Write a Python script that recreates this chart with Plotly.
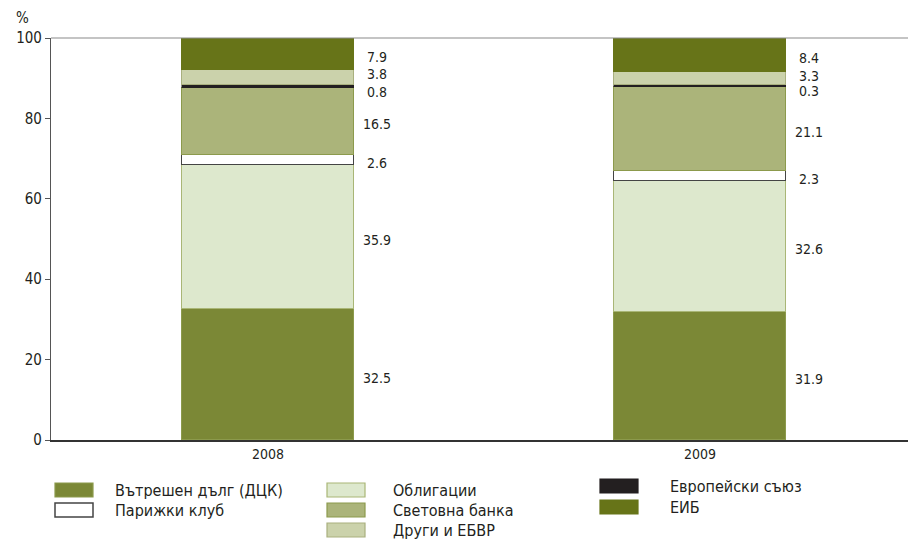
import plotly.graph_objects as go

# Structure of government debt by creditor, % of total
years = ["2008", "2009"]
series_names = [
    "Вътрешен дълг (ДЦК)",
    "Облигации",
    "Парижки клуб",
    "Световна банка",
    "Европейски съюз",
    "Други и ЕБВР",
    "ЕИБ",
]
domestic = [32.5, 31.9]
bonds = [35.9, 32.6]
paris_club = [2.6, 2.3]
world_bank = [16.5, 21.1]
eu = [0.8, 0.3]
other_ebrd = [3.8, 3.3]
eib = [7.9, 8.4]
y_ticks = [0, 20, 40, 60, 80, 100]

values = [domestic, bonds, paris_club, world_bank, eu, other_ebrd, eib]

fills = ["#7b8836", "#dde8cd", "#ffffff", "#abb47a", "#231f20", "#cbd2ab", "#677418"]
edges = ["#8c9a4c", "#a9b676", "#444444", "#8c9a4c", "#231f20", "#a9b07e", "#677418"]
edge_w = [1, 1, 1.5, 1, 0.5, 1, 1]

FONT = "Liberation Sans Narrow, DejaVu Sans Condensed, Arial Narrow, sans-serif"
TXT = "#231f20"

fig = go.Figure()
xs = list(range(len(years)))
for name, vals, fc, ec, lw in zip(series_names, values, fills, edges, edge_w):
    fig.add_trace(go.Bar(
        x=xs, y=vals, name=name, width=0.4,
        marker=dict(color=fc, line=dict(color=ec, width=lw)),
        showlegend=False, hoverinfo="name+y",
    ))

# value labels to the right of each bar, centred on the segment
nudge_px = {4: -2, 5: 6}  # pull the crowded thin segments apart
for i in xs:
    base = 0.0
    for k, vals in enumerate(values):
        v = vals[i]
        fig.add_annotation(
            x=i + 0.2 + 0.053, y=base + v / 2, xref="x", yref="y",
            text=f"{v:.1f}", showarrow=False, xanchor="center", yanchor="middle",
            yshift=-3 + nudge_px.get(k, 0),
            font=dict(family=FONT, size=14, color=TXT),
        )
        base += v

# plot-area geometry in pixels, used to place the legend below it
L, R, T, B = 51, 908, 38, 440
W, H = R - L, B - T


def px(x):
    return (x - L) / W


def py(y):
    return (B - y) / H


# top border of the plotting area
fig.add_shape(type="line", xref="paper", yref="paper", x0=0, x1=1, y0=1, y1=1,
              line=dict(color="#8a8a8a", width=1.2))

# three-column legend
legend_layout = [
    (0, 55, 113, 490), (1, 327, 391, 490), (2, 55, 113, 510), (3, 327, 391, 510),
    (4, 600, 668, 486), (5, 327, 391, 530), (6, 600, 668, 507),
]
for k, sx, tx, cy in legend_layout:
    fig.add_shape(type="rect", xref="paper", yref="paper",
                  x0=px(sx), x1=px(sx + 38), y0=py(cy - 7), y1=py(cy + 7),
                  fillcolor=fills[k], line=dict(color=edges[k], width=1.2 if k != 2 else 1.5))
    fig.add_annotation(x=px(tx), y=py(cy), xref="paper", yref="paper",
                       text=series_names[k], showarrow=False, xanchor="left", yanchor="middle",
                       font=dict(family=FONT, size=16, color=TXT))

fig.add_annotation(x=px(22), y=py(18), xref="paper", yref="paper", text="%",
                   showarrow=False, xanchor="center", yanchor="middle",
                   font=dict(family=FONT, size=15, color=TXT))

scale = 432.0
x0 = -(268 - L) / scale
fig.update_layout(
    width=908, height=540,
    margin=dict(l=L, r=908 - R, t=T, b=540 - B, pad=0),
    paper_bgcolor="white", plot_bgcolor="white",
    barmode="stack", bargap=0,
    font=dict(family=FONT, color=TXT),
    xaxis=dict(range=[x0, x0 + W / scale], tickvals=xs, ticktext=years,
               showgrid=False, zeroline=False, showline=True, linecolor="#333333", linewidth=1.5,
               ticks="", tickfont=dict(family=FONT, size=14, color=TXT), fixedrange=True),
    yaxis=dict(range=[0, 100], tickvals=y_ticks, showgrid=False, zeroline=False,
               showline=True, linecolor="#555555", linewidth=1.2,
               ticks="outside", ticklen=5, tickcolor="#555555", tickwidth=1,
               tickfont=dict(family=FONT, size=15, color=TXT), fixedrange=True),
)

fig.write_html("out.html")
